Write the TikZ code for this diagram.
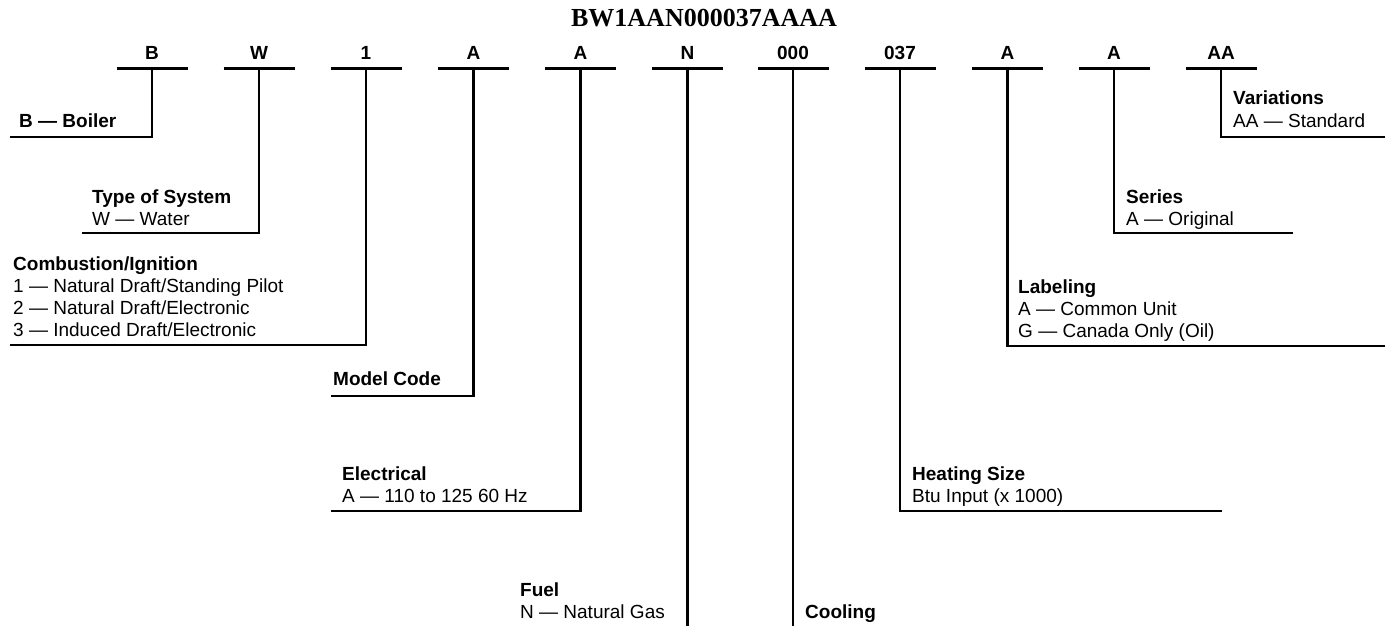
\documentclass[tikz,border=0pt]{standalone}
\usepackage{fontspec}
\setmainfont{Liberation Sans}
\newfontfamily\titlefont{Liberation Serif}
\begin{document}
\begin{tikzpicture}[x=1pt,y=-1pt,
  wire/.style={line width=2.2pt,line cap=butt,line join=miter},
  codelbl/.style={font=\fontsize{19}{22}\selectfont\bfseries,anchor=base,inner sep=0pt},
  desc/.style={font=\fontsize{19}{22}\selectfont,anchor=base west,inner sep=0pt,align=left},
]
\useasboundingbox (0,0) rectangle (1385,626);
% title
\node[font=\titlefont\fontsize{26}{30}\selectfont\bfseries,anchor=base,inner sep=0pt] (title) at (704,27) {BW1AAN000037AAAA};
% code positions
\foreach \i/\t/\xx in {1/B/152,2/W/259,3/1/366,4/A/473.5,5/A/580.5,6/N/687.5,7/000/793,8/037/900,9/A/1007.5,10/A/1114,11/AA/1221}{
  \node[codelbl] (l\i) at (\xx,60) {\t};
  \coordinate (s\i) at (\xx,68.5);
  \coordinate (bl\i) at (\xx-35.5,68.5);
  \coordinate (br\i) at (\xx+35.5,68.5);
  \draw[wire] (bl\i) -- (br\i);
}
% end coordinates of branches
\coordinate (e1) at (10,137);
\coordinate (e2) at (82,233);
\coordinate (e3) at (10,345);
\coordinate (e4) at (331,396);
\coordinate (e5) at (331,511);
\coordinate (e6) at (687.5,626);
\coordinate (e7) at (793,626);
\coordinate (e8) at (1222,511);
\coordinate (e9) at (1385,346);
\coordinate (e10) at (1293,233);
\coordinate (e11) at (1385,137);
\draw[wire] (s1) |- (e1);
\draw[wire] (s2) |- (e2);
\draw[wire] (s3) |- (e3);
\draw[wire] (s4) |- (e4);
\draw[wire] (s5) |- (e5);
\draw[wire] (s6) -- (e6);
\draw[wire] (s7) -- (e7);
\draw[wire] (s8) |- (e8);
\draw[wire] (s9) |- (e9);
\draw[wire] (s10) |- (e10);
\draw[wire] (s11) |- (e11);
% descriptions (anchored at last baseline)
\node[desc] (d1) at (19,127) {\textbf{B — Boiler}};
\node[desc] (d2) at (92,225) {\textbf{Type of System}\\W — Water};
\node[desc] (d3) at (13,336) {\textbf{Combustion/Ignition}\\1 — Natural Draft/Standing Pilot\\2 — Natural Draft/Electronic\\3 — Induced Draft/Electronic};
\node[desc] (d4) at (333,385) {\textbf{Model Code}};
\node[desc] (d5) at (342,502) {\textbf{Electrical}\\A — 110 to 125 60 Hz};
\node[desc] (d6) at (520,618) {\textbf{Fuel}\\N — Natural Gas};
\node[desc] (d7) at (805,618) {\textbf{Cooling}};
\node[desc] (d8) at (912,502) {\textbf{Heating Size}\\Btu Input (x 1000)};
\node[desc] (d9) at (1018,337) {\textbf{Labeling}\\A — Common Unit\\G — Canada Only (Oil)};
\node[desc] (d10) at (1126,225) {\textbf{Series}\\A — Original};
\node[desc] (d11) at (1233,127) {\textbf{Variations}\\AA — Standard};
\end{tikzpicture}
\end{document}
